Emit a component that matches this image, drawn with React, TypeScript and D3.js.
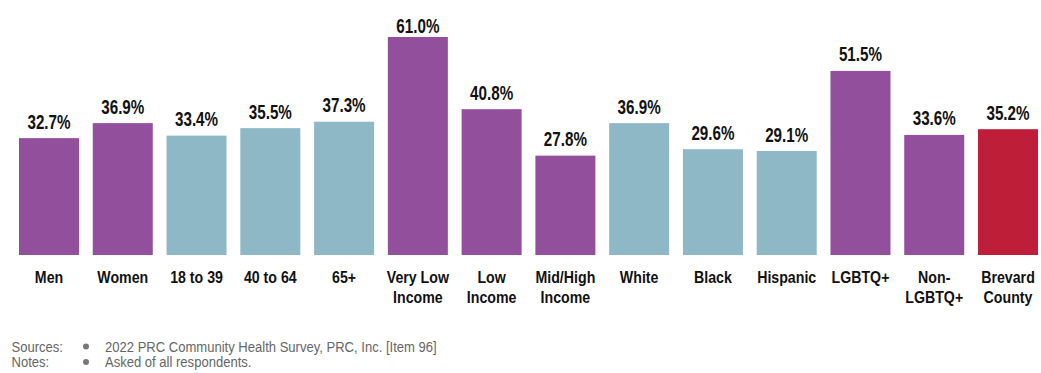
import React from "react";
import * as d3 from "d3";

const categories: string[][] = [
  ["Men"], ["Women"], ["18 to 39"], ["40 to 64"], ["65+"],
  ["Very Low", "Income"], ["Low", "Income"], ["Mid/High", "Income"],
  ["White"], ["Black"], ["Hispanic"], ["LGBTQ+"], ["Non-", "LGBTQ+"], ["Brevard", "County"],
];
const values: number[] = [32.7, 36.9, 33.4, 35.5, 37.3, 61.0, 40.8, 27.8, 36.9, 29.6, 29.1, 51.5, 33.6, 35.2];
const groups: string[] = ["sex", "sex", "age", "age", "age", "inc", "inc", "inc", "race", "race", "race", "lgb", "lgb", "total"];
const groupColors: Record<string, string> = {
  sex: "#914F9C", age: "#8FB8C7", inc: "#914F9C", race: "#8FB8C7", lgb: "#914F9C", total: "#BE1E38",
};
const sources = "2022 PRC Community Health Survey, PRC, Inc. [Item 96]";
const notes = "Asked of all respondents.";

const W = 1041, H = 373;
const FONT = "'Liberation Sans', Arial, sans-serif";

function Txt(props: { x: number; y: number; sx: number; size: number; bold?: boolean; fill: string; anchor?: string; children: React.ReactNode }) {
  const { x, y, sx, size, bold, fill, anchor, children } = props;
  return (
    <text
      transform={`translate(${x},${y}) scale(${sx},1)`}
      textAnchor={anchor || "start"}
      fontFamily={FONT}
      fontWeight={bold ? "bold" : "normal"}
      fontSize={size}
      fill={fill}
    >
      {children}
    </text>
  );
}

export default function App() {
  const idx = values.map((_, i) => String(i));
  const x = d3.scaleBand<string>().domain(idx).range([19, 1038]).paddingInner(0.1867).paddingOuter(0);
  const y = d3.scaleLinear().domain([0, 61]).range([255, 37]);
  return (
    <div style={{ position: "absolute", left: 0, top: 0 }}>
      <svg width={W} height={H} style={{ display: "block", background: "#fff" }}>
        {values.map((v, i) => {
          const x0 = x(String(i))!;
          const bw = x.bandwidth();
          const cx = x0 + bw / 2;
          const ly = Math.max(y(v) - 9.5, 33);
          return (
            <g key={i}>
              <rect x={x0} y={y(v)} width={bw} height={y(0) - y(v)} fill={groupColors[groups[i]]} />
              <Txt x={cx} y={ly} sx={0.78} size={19.5} bold fill="#111" anchor="middle">
                {v.toFixed(1) + "%"}
              </Txt>
              {categories[i].map((line, j) => (
                <Txt key={j} x={cx} y={282.7 + j * 20} sx={0.86} size={16.5} bold fill="#111" anchor="middle">
                  {line}
                </Txt>
              ))}
            </g>
          );
        })}
        <g>
          <Txt x={11.5} y={351.7} sx={0.9} size={14.5} fill="#666">Sources:</Txt>
          <circle cx={86} cy={346.5} r={3} fill="#777" />
          <Txt x={105} y={351.7} sx={0.9} size={14.5} fill="#666">{sources}</Txt>
          <Txt x={11.5} y={367} sx={0.9} size={14.5} fill="#666">Notes:</Txt>
          <circle cx={86} cy={362} r={3} fill="#777" />
          <Txt x={105} y={367} sx={0.9} size={14.5} fill="#666">{notes}</Txt>
        </g>
      </svg>
    </div>
  );
}
